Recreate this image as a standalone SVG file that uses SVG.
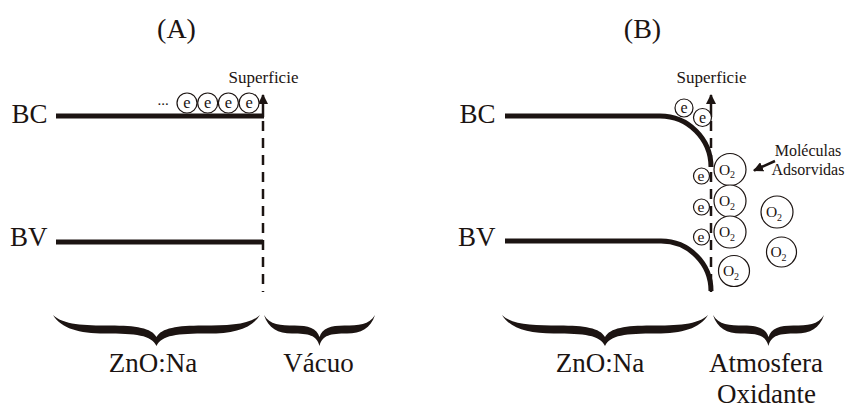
<svg xmlns="http://www.w3.org/2000/svg" width="858" height="410" viewBox="0 0 858 410">
<defs>
<style>
text{font-family:'Liberation Serif','Times New Roman',Times,serif;fill:#1c1412}
.band{fill:none;stroke:#1c1412;stroke-width:5}
.dash{fill:none;stroke:#1c1412;stroke-width:2.5;stroke-dasharray:10 7}
.shaft{fill:none;stroke:#1c1412;stroke-width:2.5}
.ec{fill:#fff;stroke:#1c1412;stroke-width:1.2}
.oc{fill:#fff;stroke:#1c1412;stroke-width:1.2}
.brace{fill:#1c1412}
</style>
<marker id="ah" viewBox="0 0 10 10" refX="9" refY="5" markerWidth="4" markerHeight="4" orient="auto" markerUnits="strokeWidth">
<path d="M0,0 L10,5 L0,10 Z" fill="#1c1412"/>
</marker>
</defs>
<rect width="858" height="410" fill="#fff"/>

<g id="titles" font-family="Liberation Serif">
<text x="176.5" y="38" font-size="28" text-anchor="middle">(A)</text>
<text x="642.5" y="38" font-size="28" text-anchor="middle">(B)</text>
</g>

<!-- Panel A -->
<g id="A-bands" font-family="Liberation Serif">
<text x="47.5" y="122.5" font-size="27" text-anchor="end">BC</text>
<text x="47.5" y="246" font-size="27" text-anchor="end">BV</text>
<path class="band" d="M56,116 H264"/>
<path class="band" d="M56,242 H263"/>
</g>
<g id="A-surface" font-family="Liberation Serif">
<path class="dash" d="M263,121 V292"/>
<path class="shaft" d="M263,117 V95" marker-end="url(#ah)"/>
<text x="263.5" y="83" font-size="17" text-anchor="middle">Superficie</text>
</g>
<g id="A-electrons" font-family="Liberation Serif">
<text x="163" y="105" font-size="15" text-anchor="middle">...</text>
<circle class="ec" cx="187" cy="103" r="10"/><text x="187" y="108" font-size="16.5" text-anchor="middle">e</text>
<circle class="ec" cx="207.7" cy="103" r="10"/><text x="207.7" y="108" font-size="16.5" text-anchor="middle">e</text>
<circle class="ec" cx="228.4" cy="103" r="10"/><text x="228.4" y="108" font-size="16.5" text-anchor="middle">e</text>
<circle class="ec" cx="249.1" cy="103" r="10"/><text x="249.1" y="108" font-size="16.5" text-anchor="middle">e</text>
</g>

<!-- Panel B -->
<g id="B-bands" font-family="Liberation Serif">
<text x="495.5" y="122.5" font-size="27" text-anchor="end">BC</text>
<text x="495.5" y="246" font-size="27" text-anchor="end">BV</text>
<path class="band" d="M505,116 H660 A51,51 0 0 1 711,167"/>
<path class="band" d="M505,241 H661 A50,50 0 0 1 711,291"/>
</g>
<g id="B-surface" font-family="Liberation Serif">
<path class="dash" d="M711,121 V292"/>
<path class="shaft" d="M711,117 V95" marker-end="url(#ah)"/>
<text x="711.5" y="83" font-size="17" text-anchor="middle">Superficie</text>
</g>
<g id="B-electrons" font-family="Liberation Serif">
<circle class="ec" cx="684" cy="108" r="9"/><text x="684" y="113" font-size="16" text-anchor="middle">e</text>
<circle class="ec" cx="702.5" cy="117.5" r="9"/><text x="702.5" y="122.5" font-size="16" text-anchor="middle">e</text>
<circle class="ec" cx="701.5" cy="176" r="8"/><text x="701" y="180.5" font-size="15.5" text-anchor="middle">e</text>
<circle class="ec" cx="701.5" cy="207" r="8"/><text x="701" y="211.5" font-size="15.5" text-anchor="middle">e</text>
<circle class="ec" cx="701.5" cy="237" r="8"/><text x="701" y="241.5" font-size="15.5" text-anchor="middle">e</text>
</g>
<g id="B-oxygen" font-family="Liberation Serif">
<circle class="oc" cx="730" cy="169.5" r="16"/><text x="727" y="174.5" font-size="15.5" text-anchor="middle">O<tspan font-size="10" dy="3.5">2</tspan></text>
<circle class="oc" cx="730" cy="201" r="16"/><text x="727" y="206" font-size="15.5" text-anchor="middle">O<tspan font-size="10" dy="3.5">2</tspan></text>
<circle class="oc" cx="730" cy="232" r="16"/><text x="727" y="237" font-size="15.5" text-anchor="middle">O<tspan font-size="10" dy="3.5">2</tspan></text>
<circle class="oc" cx="777" cy="212" r="16"/><text x="774" y="217" font-size="15.5" text-anchor="middle">O<tspan font-size="10" dy="3.5">2</tspan></text>
<circle class="oc" cx="781.5" cy="252" r="15"/><text x="778.5" y="257" font-size="15.5" text-anchor="middle">O<tspan font-size="10" dy="3.5">2</tspan></text>
<circle class="oc" cx="734" cy="271" r="15.5"/><text x="731" y="276" font-size="15.5" text-anchor="middle">O<tspan font-size="10" dy="3.5">2</tspan></text>
</g>
<g id="B-label" font-family="Liberation Serif">
<text x="808" y="156" font-size="16" text-anchor="middle">Moléculas</text>
<text x="808" y="174.5" font-size="16" text-anchor="middle">Adsorvidas</text>
</g>
<g id="connectors">
<path class="shaft" d="M775,161 L754,170.5" marker-end="url(#ah)"/>
</g>

<!-- Braces -->
<g id="braces">
<path class="brace" d="M53,315 C63.4,325 84.1,325.5 110,325.5 C136,325.5 151.5,328 156.5,337 C161.5,328 177,325.5 203,325.5 C229,325.5 249.6,325 260,315 C251.7,328.5 234,333.5 208,333.5 C177,333.5 161.7,335 156.5,346 C151.3,335 136,333.5 105,333.5 C79,333.5 61.3,328.5 53,315 Z"/>
<path class="brace" d="M264,315 C269.6,325 280.7,325.5 294.5,325.5 C308.5,325.5 316.8,328 319.5,337 C322.2,328 330.5,325.5 344.5,325.5 C358.3,325.5 369.4,325 375,315 C370.6,328.5 361,333.5 347,333.5 C330.3,333.5 322.3,335 319.5,346 C316.7,335 308.7,333.5 292,333.5 C278,333.5 268.4,328.5 264,315 Z"/>
<path class="brace" d="M502,315 C512.3,325 533,325.5 558.9,325.5 C584.7,325.5 600,328 605,337 C610,328 625.3,325.5 651.1,325.5 C677,325.5 697.7,325 708,315 C699.8,328.5 682,333.5 656.3,333.5 C625.3,333.5 610.2,335 605,346 C599.8,335 584.7,333.5 553.7,333.5 C528,333.5 510.2,328.5 502,315 Z"/>
<path class="brace" d="M713,315 C718.6,325 729.7,325.5 743.5,325.5 C757.4,325.5 765.7,328 768.5,337 C771.3,328 779.6,325.5 793.5,325.5 C807.3,325.5 818.4,325 824,315 C819.6,328.5 810,333.5 796.3,333.5 C779.6,333.5 771.3,335 768.5,346 C765.7,335 757.4,333.5 740.7,333.5 C727,333.5 717.4,328.5 713,315 Z"/>
</g>
<g id="region-labels" font-family="Liberation Serif">
<text x="153" y="372" font-size="27" text-anchor="middle">ZnO:Na</text>
<text x="318.5" y="372" font-size="27" text-anchor="middle">Vácuo</text>
<text x="600" y="372" font-size="27" text-anchor="middle">ZnO:Na</text>
<text x="766" y="372" font-size="27" text-anchor="middle">Atmosfera</text>
<text x="766.5" y="403" font-size="27" text-anchor="middle">Oxidante</text>
</g>
</svg>
